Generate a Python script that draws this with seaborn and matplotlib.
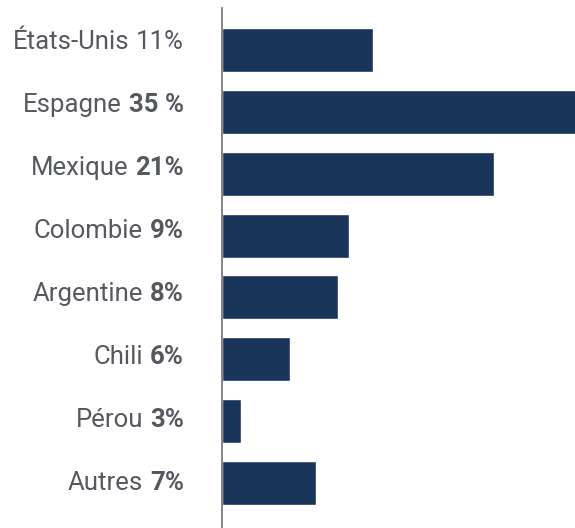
import matplotlib
matplotlib.use("Agg")
import matplotlib.pyplot as plt
import seaborn as sns
import pandas as pd

# Data
countries = ["États-Unis", "Espagne", "Mexique", "Colombie", "Argentine", "Chili", "Pérou", "Autres"]
pct_labels = ["11%", "35 %", "21%", "9%", "8%", "6%", "3%", "7%"]
pct_bold = [False, True, True, True, True, True, True, True]
bar_values = [11.0, 35.0, 19.8, 9.25, 8.45, 4.95, 1.4, 6.85]

sns.set_theme(style="white")
plt.rcParams["font.family"] = ["Roboto", "DejaVu Sans"]

BAR = "#1a355a"
TXT = "#55595f"

df = pd.DataFrame({"country": countries, "value": bar_values})

fig = plt.figure(figsize=(5.75, 5.28), dpi=100)
ax = fig.add_axes([222 / 575, 0.0, 353 / 575, 1 - 8 / 528])

sns.barplot(data=df, x="value", y="country", orient="h", color=BAR,
            saturation=1, width=0.71, ax=ax)

ax.set_xlim(0, 25.7)
ax.set_ylim(7.727, -0.679)
ax.set_xlabel("")
ax.set_ylabel("")
ax.set_xticks([])
ax.set_yticks([])
for s in ["top", "right", "bottom"]:
    ax.spines[s].set_visible(False)
ax.spines["left"].set_color("#7a7a7a")
ax.spines["left"].set_linewidth(1.3)
ax.spines["left"].set_zorder(5)

# label axis (labels spaced slightly differently than bars)
ax2 = ax.twinx()
ax2.set_ylim(7.611, -0.643)
ax2.set_axis_off()

fs = 18.5
for i, (name, pct, bold) in enumerate(zip(countries, pct_labels, pct_bold)):
    t = ax2.annotate(pct, xy=(0, i), xycoords=("axes fraction", "data"),
                     xytext=(-38 * 0.72, 0), textcoords="offset points",
                     ha="right", va="baseline", fontsize=fs, color=TXT,
                     fontweight="bold" if bold else "normal", annotation_clip=False)
    ax2.annotate(name, xy=(0, 0), xycoords=t, xytext=(-5, 0),
                 textcoords="offset points", ha="right", va="bottom",
                 fontsize=fs, color=TXT, annotation_clip=False)

fig.savefig("out.png", dpi=100)
